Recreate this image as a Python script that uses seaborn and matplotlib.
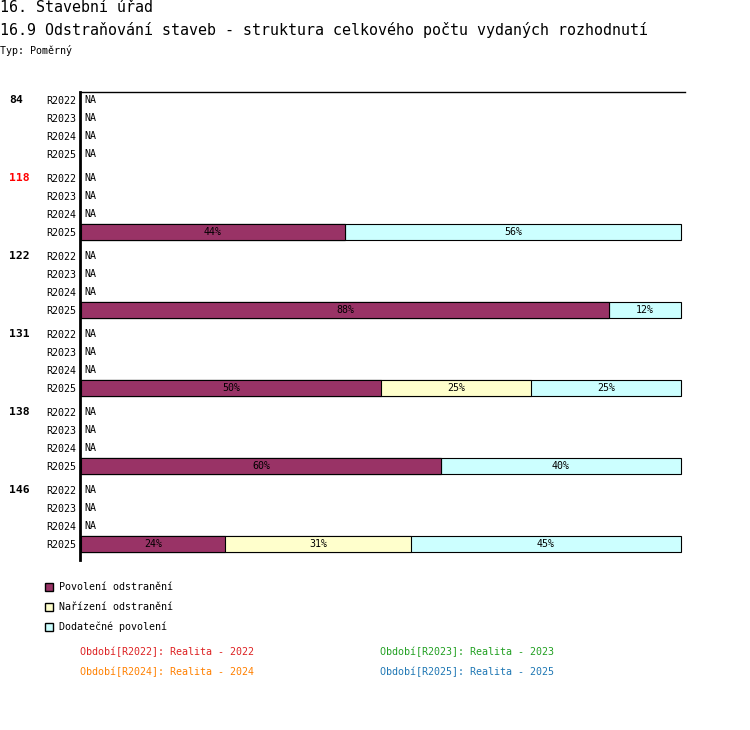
"""
Odstraňování staveb - struktura celkového počtu vydaných rozhodnutí.
"""

import numpy as np
import pandas as pd
import matplotlib
matplotlib.use("Agg")
import matplotlib.pyplot as plt
from matplotlib.patches import Rectangle
import seaborn as sns

groups = ["84", "118", "122", "131", "138", "146"]
group_colors = ["black", "red", "black", "black", "black", "black"]
periods = ["R2022", "R2023", "R2024", "R2025"]
categories = ["Povolení odstranění", "Nařízení odstranění", "Dodatečné povolení"]
cat_colors = ["#993366", "#ffffcc", "#ccffff"]

# shares in % for period R2025 (other periods are NA)
povoleni = [np.nan, 44, 88, 50, 60, 24]
narizeni = [np.nan, 0, 0, 25, 0, 31]
dodatecne = [np.nan, 56, 12, 25, 40, 45]

footnotes = ["Období[R2022]: Realita - 2022", "Období[R2023]: Realita - 2023",
             "Období[R2024]: Realita - 2024", "Období[R2025]: Realita - 2025"]
footnote_colors = ["#dd2222", "#22a022", "#ff8000", "#1f77b4"]

W, H = 750, 730
GROUP_STEP = 78 / 18  # rows per group incl. gap


def px(x, y):
    return x / W, 1 - y / H


def main():
    sns.set_style("white")
    plt.rcParams["font.family"] = ["DejaVu Sans Mono"]
    plt.rcParams["text.color"] = "black"
    plt.rcParams["ytick.color"] = "black"

    rows = []
    for g, grp in enumerate(groups):
        for r, per in enumerate(periods):
            has = per == "R2025" and not np.isnan(povoleni[g])
            vals = [povoleni[g], narizeni[g], dodatecne[g]] if has else [np.nan] * 3
            rows.append({"group": grp, "period": per, "pos": g * GROUP_STEP + r,
                         "p": vals[0], "n": vals[1], "d": vals[2]})
    df = pd.DataFrame(rows)
    df["c1"] = df["p"]
    df["c2"] = df["p"] + df["n"]
    df["c3"] = df["p"] + df["n"] + df["d"]

    fig = plt.figure(figsize=(W / 100, H / 100), dpi=100)
    ax = fig.add_axes([80 / W, 1 - 560 / H, 605 / W, (560 - 92) / H])

    # stacked bars: draw cumulative totals from the back
    for col, color in zip(["c3", "c2", "c1"], cat_colors[::-1]):
        sns.barplot(data=df, x=col, y="pos", orient="y", native_scale=True,
                    color=color, saturation=1, edgecolor="black", linewidth=0.8,
                    width=16 / 18, errorbar=None, ax=ax)

    for _, row in df.iterrows():
        if np.isnan(row["p"]):
            ax.text(0.5, row["pos"], "NA", ha="left", va="center", fontsize=7.2)
            continue
        start = 0
        for v in [row["p"], row["n"], row["d"]]:
            if v > 0:
                ax.text(start + v / 2, row["pos"], f"{int(v)}%", ha="center",
                        va="center", fontsize=7.2, color="black")
            start += v

    ax.set_xlim(-1 / 6, 604 / 6)
    ax.set_ylim((560 - 100) / 18, (92 - 100) / 18)
    ax.set_xticks([])
    ax.set_yticks(df["pos"], labels=df["period"])
    ax.tick_params(axis="y", length=0, pad=2.5, labelsize=7.2, labelcolor="black")
    ax.set_xlabel("")
    ax.set_ylabel("")
    for s in ["right", "bottom"]:
        ax.spines[s].set_visible(False)
    ax.spines["top"].set_linewidth(1)
    ax.spines["top"].set_color("black")
    ax.spines["left"].set_linewidth(2)
    ax.spines["left"].set_color("black")

    ytr = ax.get_yaxis_transform()
    for g, grp in enumerate(groups):
        ax.text((9 - 80) / 605, g * GROUP_STEP, grp, transform=ytr, ha="left",
                va="center", fontsize=8.2, fontweight="bold", color=group_colors[g])

    # titles
    fig.text(*px(0, 8), "16. Stavební úřad", fontsize=10.8, va="center")
    fig.text(*px(0, 30), "16.9 Odstraňování staveb - struktura celkového počtu vydaných rozhodnutí",
             fontsize=10.8, va="center")
    fig.text(*px(0, 50), "Typ: Poměrný", fontsize=7.2, va="center")

    # legend
    for i, (cat, color) in enumerate(zip(categories, cat_colors)):
        y = 587 + 20 * i
        x0, y0 = px(45, y + 4)
        fig.add_artist(Rectangle((x0, y0), 8 / W, 8 / H, transform=fig.transFigure,
                                 facecolor=color, edgecolor="black", linewidth=1))
        fig.text(*px(59, y), cat, fontsize=7.2, va="center")

    for i, (txt, color) in enumerate(zip(footnotes, footnote_colors)):
        x = 80 if i % 2 == 0 else 380
        y = 652 + 20 * (i // 2)
        fig.text(*px(x, y), txt, fontsize=7.2, va="center", color=color)

    fig.savefig("out.png", dpi=100)


if __name__ == "__main__":
    main()
